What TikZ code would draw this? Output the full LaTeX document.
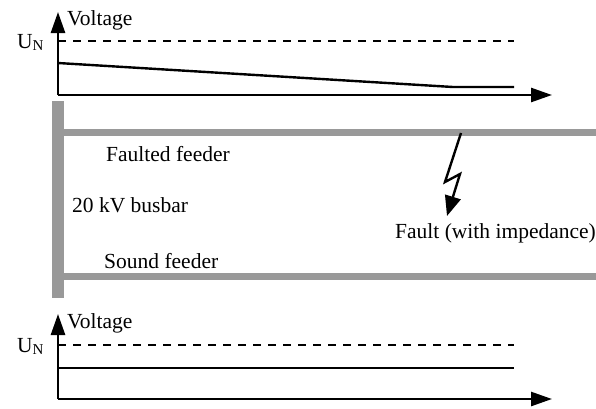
\documentclass[tikz,border=0pt]{standalone}
\usepackage{fontspec}
\setmainfont{Liberation Serif}
\usetikzlibrary{arrows.meta}
\begin{document}
\begin{tikzpicture}[x=1pt,y=-1pt,
  axis/.style={line width=2.6pt,-{Triangle[length=21pt,width=14pt]}},
  nominal/.style={line width=2.4pt,dash pattern=on 8pt off 7pt},
  volt/.style={line width=2.4pt},
  bar/.style={draw=none,fill=gray!80},
  lbl/.style={inner sep=0pt,anchor=base west,font=\fontsize{21.5}{24}\selectfont},
  bolt/.style={line width=2.4pt,line join=miter,-{Triangle[length=20pt,width=16pt]}}]
\useasboundingbox (0,0) rectangle (596,408);
\newcommand{\UN}{U\raisebox{-0.3ex}{\fontsize{15}{15}\selectfont N}}
% ---------- top chart ----------
\coordinate (o1) at (58,95);
\coordinate (y1) at (58,12);
\coordinate (x1) at (552,95);
\coordinate (d1a) at (58,41);
\coordinate (d1b) at (514,41);
\coordinate (v1a) at (58,63);
\coordinate (v1b) at (453,87);
\coordinate (v1c) at (514,87);
\draw[nominal] (d1a) -- (d1b);
\draw[volt] (v1a) -- (v1b) -- (v1c);
\draw[axis] (o1) -- (y1);
\draw[axis] (o1) -- (x1);
\node[lbl] (volt1) at (67,25) {Voltage};
\node[lbl] (un1) at (17,48) {\UN};
% ---------- busbar and feeders ----------
\fill[bar] (52,101) rectangle (64,298);
\fill[bar] (64,129) rectangle (596,136);
\fill[bar] (64,273) rectangle (596,280);
\node[lbl] (ff) at (106,161) {Faulted feeder};
\node[lbl] (bb) at (72,212) {20 kV busbar};
\node[lbl] (sf) at (104,268) {Sound feeder};
\node[lbl] (fault) at (395,238) {Fault (with impedance)};
% fault bolt
\coordinate (b0) at (461,133);
\coordinate (b1) at (445,182);
\coordinate (b2) at (460,174);
\coordinate (b3) at (447,216);
\draw[bolt] (b0) -- (b1) -- (b2) -- (b3);
% ---------- bottom chart ----------
\coordinate (o2) at (58,399);
\coordinate (y2) at (58,314);
\coordinate (x2) at (552,399);
\coordinate (d2a) at (58,345);
\coordinate (d2b) at (514,345);
\coordinate (v2a) at (58,368);
\coordinate (v2b) at (514,368);
\draw[nominal] (d2a) -- (d2b);
\draw[volt] (v2a) -- (v2b);
\draw[axis] (o2) -- (y2);
\draw[axis] (o2) -- (x2);
\node[lbl] (volt2) at (67,328) {Voltage};
\node[lbl] (un2) at (17,352) {\UN};
\end{tikzpicture}
\end{document}
